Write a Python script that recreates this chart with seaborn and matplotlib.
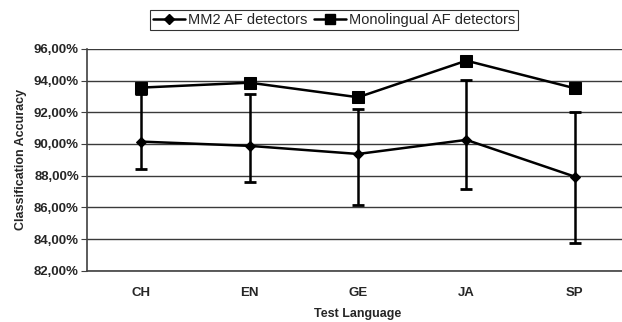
import numpy as np
import pandas as pd
import matplotlib
matplotlib.use('Agg')
import matplotlib.pyplot as plt
import seaborn as sns

# data
langs = ['CH', 'EN', 'GE', 'JA', 'SP']
mm2 = [90.15, 89.88, 89.37, 90.26, 87.94]
mm2_hi = [93.14, 93.18, 92.21, 94.02, 92.00]
mm2_lo = [88.42, 87.63, 86.15, 87.14, 83.77]
mono = [93.56, 93.87, 92.95, 95.26, 93.52]
yticks = [82, 84, 86, 88, 90, 92, 94, 96]
ytick_labels = ['82,00%', '84,00%', '86,00%', '88,00%', '90,00%', '92,00%', '94,00%', '96,00%']

sns.set_style('white')
plt.rcParams['font.family'] = ['Liberation Sans', 'DejaVu Sans']

df = pd.DataFrame({'lang': langs, 'MM2 AF detectors': mm2,
                   'Monolingual AF detectors': mono})
long = df.melt(id_vars='lang', var_name='series', value_name='acc')

fig = plt.figure(figsize=(6.22, 3.22), dpi=100)
ax = fig.add_axes([0.1404, 0.1593, 0.8706, 0.6887])

sns.lineplot(data=long, x='lang', y='acc', hue='series', style='series',
             markers={'MM2 AF detectors': 'D', 'Monolingual AF detectors': 's'},
             dashes=False, palette=['black', 'black'], linewidth=1.8,
             markersize=6, markeredgecolor='black', ax=ax, legend=False,
             zorder=3)
# make square markers a bit larger
ax.lines[1].set_markersize(8)
ax.lines[0].set_markersize(5.5)

xpos = np.arange(len(langs))
err = [np.array(mm2) - np.array(mm2_lo), np.array(mm2_hi) - np.array(mm2)]
ax.errorbar(xpos, mm2, yerr=err, fmt='none', ecolor='black', elinewidth=1.8,
            capsize=4, capthick=2, zorder=2)

ax.set_ylim(82, 96)
ax.set_xlim(-0.5, 4.5)
ax.set_yticks(yticks)
ax.set_yticklabels(ytick_labels, fontweight='bold', fontsize=9.5)
ax.set_xticks(xpos)
ax.set_xticklabels(langs, fontweight='bold', fontsize=9.5)
ax.tick_params(axis='x', length=0, pad=12)
ax.set_xticks(np.arange(-0.5, 5.0, 1.0), minor=True)
ax.tick_params(axis='x', which='minor', length=4, color='#404040', direction='out')
ax.tick_params(axis='y', length=4, color='#404040', direction='out', left=True, pad=2)
ax.grid(axis='y', color='#3a3a3a', linewidth=1)
ax.set_axisbelow(True)

for s in ['top', 'right']:
    ax.spines[s].set_visible(False)
for s in ['left', 'bottom']:
    ax.spines[s].set_color('#404040')
    ax.spines[s].set_linewidth(1.2)

ax.set_xlabel('Test Language', fontweight='bold', fontsize=9, labelpad=6)
ax.set_ylabel('Classification Accuracy', fontweight='bold', fontsize=9, labelpad=5)

h1, = ax.plot([], [], color='black', marker='D', markersize=5.5, linewidth=1.8)
h2, = ax.plot([], [], color='black', marker='s', markersize=7.5, linewidth=1.8)
leg = fig.legend([h1, h2], ['MM2 AF detectors', 'Monolingual AF detectors'],
                 loc='center', bbox_to_anchor=(0.537, 0.938), ncol=2,
                 frameon=True, fancybox=False, edgecolor='black', fontsize=10.5,
                 handlelength=2.2, handletextpad=0.2, columnspacing=0.5,
                 borderpad=0.2, borderaxespad=0)
leg.get_frame().set_linewidth(0.8)

fig.savefig('out.png', dpi=100)
